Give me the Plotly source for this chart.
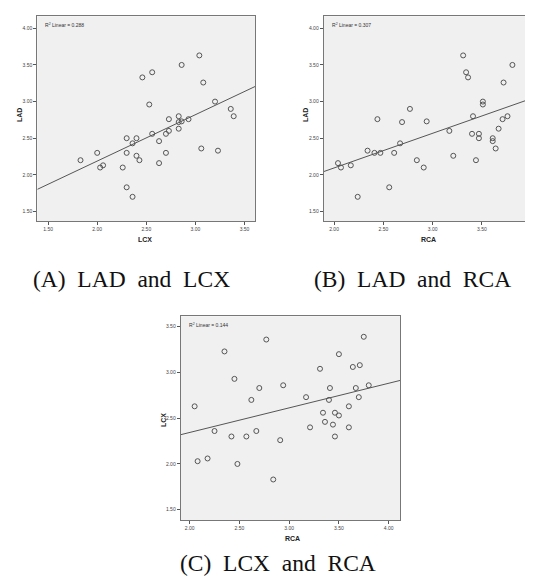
import numpy as np
import plotly.graph_objects as go

# Panel A: LCX (x) vs LAD (y)
a_lcx = [1.83, 2.00, 2.03, 2.06, 2.26, 2.30, 2.30, 2.30, 2.36, 2.36, 2.40, 2.40, 2.43,
         2.46, 2.53, 2.56, 2.56, 2.63, 2.63, 2.70, 2.70, 2.73, 2.73, 2.83, 2.83, 2.83,
         2.86, 2.86, 2.93, 3.04, 3.06, 3.08, 3.20, 3.23, 3.36, 3.39]
a_lad = [2.20, 2.30, 2.10, 2.13, 2.10, 2.50, 2.30, 1.83, 2.43, 1.70, 2.50, 2.26, 2.20,
         3.33, 2.96, 2.56, 3.40, 2.46, 2.16, 2.56, 2.30, 2.76, 2.60, 2.80, 2.72, 2.63,
         2.73, 3.50, 2.76, 3.63, 2.36, 3.26, 3.00, 2.33, 2.90, 2.80]

# Panel B: RCA (x) vs LAD (y)
b_rca = [2.04, 2.07, 2.17, 2.24, 2.34, 2.41, 2.44, 2.47, 2.56, 2.61, 2.67, 2.69, 2.77,
         2.84, 2.91, 2.94, 3.17, 3.21, 3.31, 3.34, 3.36, 3.40, 3.41, 3.44, 3.47, 3.47,
         3.51, 3.51, 3.61, 3.61, 3.64, 3.67, 3.71, 3.72, 3.76, 3.81]
b_lad = [2.16, 2.10, 2.13, 1.70, 2.33, 2.30, 2.76, 2.30, 1.83, 2.30, 2.43, 2.72, 2.90,
         2.20, 2.10, 2.73, 2.60, 2.26, 3.63, 3.40, 3.33, 2.56, 2.80, 2.20, 2.56, 2.50,
         3.00, 2.96, 2.50, 2.46, 2.36, 2.63, 2.76, 3.26, 2.80, 3.50]

# Panel C: RCA (x) vs LCX (y)
c_rca = [2.05, 2.08, 2.18, 2.25, 2.35, 2.42, 2.45, 2.48, 2.57, 2.62, 2.67, 2.70, 2.77,
         2.84, 2.91, 2.94, 3.17, 3.21, 3.31, 3.34, 3.36, 3.40, 3.41, 3.44, 3.46, 3.46,
         3.50, 3.50, 3.60, 3.60, 3.64, 3.67, 3.70, 3.71, 3.75, 3.80]
c_lcx = [2.63, 2.03, 2.06, 2.36, 3.23, 2.30, 2.93, 2.00, 2.30, 2.70, 2.36, 2.83, 3.36,
         1.83, 2.26, 2.86, 2.73, 2.40, 3.04, 2.56, 2.46, 2.70, 2.83, 2.43, 2.56, 2.30,
         2.53, 3.20, 2.63, 2.40, 3.06, 2.83, 2.73, 3.08, 3.39, 2.86]

# Linear fit lines as shown (intercept, slope)
fit_a = [0.922, 0.633]
fit_b = [1.148, 0.473]
fit_c = [1.806, 0.269]

r2_labels = ["0.288", "0.307", "0.144"]
captions = ["(A)\u00a0 LAD\u00a0 and\u00a0 LCX", "(B)\u00a0 LAD\u00a0 and\u00a0 RCA", "(C)\u00a0 LCX\u00a0 and\u00a0 RCA"]
x_titles = ["LCX", "RCA", "RCA"]
y_titles = ["LAD", "LAD", "LCX"]

W, H = 533, 583
def px(x): return x / W
def py(y): return 1 - y / H

panels = [
    dict(x=a_lcx, y=a_lad, fit=fit_a, xr=[1.39, 3.61], yr=[1.37, 4.164], dom=(29.3, 247.3, 8.3, 213)),
    dict(x=b_rca, y=b_lad, fit=fit_b, xr=[1.895, 4.10], yr=[1.37, 4.164], dom=(315.7, 533, 8.3, 213)),
    dict(x=c_rca, y=c_lcx, fit=fit_c, xr=[1.91, 4.114], yr=[1.384, 3.614], dom=(172.7, 392, 308.3, 512.3)),
]

fig = go.Figure()
layout = dict(width=W, height=H, margin=dict(l=0, r=0, t=0, b=0),
              paper_bgcolor="white", showlegend=False, annotations=[])

for i, p in enumerate(panels):
    n = "" if i == 0 else str(i + 1)
    xa, ya = "x" + n, "y" + n
    fig.add_trace(go.Scatter(x=p["x"], y=p["y"], mode="markers", xaxis=xa, yaxis=ya,
                             marker=dict(symbol="circle-open", size=5,
                                         color="#555555", line=dict(width=1))))
    icpt, slope = p["fit"]
    lx = np.array(p["xr"])
    fig.add_trace(go.Scatter(x=lx, y=slope * lx + icpt, mode="lines", xaxis=xa, yaxis=ya,
                             line=dict(color="#555555", width=1)))
    l, r, t, b = p["dom"]
    axcommon = dict(showgrid=False, zeroline=False, showline=True, mirror=True,
                    linecolor="#777777", linewidth=1, ticks="outside", ticklen=3,
                    tickcolor="#555555", tickwidth=1, tickformat=".2f", dtick=0.5,
                    tickfont=dict(family="Arial, Liberation Sans", size=5, color="#444444"))
    layout["xaxis" + n] = dict(axcommon, domain=[px(l), px(r)], range=p["xr"], anchor=ya,
                               tick0=2.0)
    layout["yaxis" + n] = dict(axcommon, domain=[py(b), py(t)], range=p["yr"], anchor=xa,
                               tick0=1.5)
    # R^2 label
    layout["annotations"].append(dict(
        text="R<sup>2</sup> Linear = " + r2_labels[i], x=px(l + 6), y=py(t + 9),
        xref="paper", yref="paper", xanchor="left", yanchor="middle", showarrow=False,
        font=dict(family="Arial, Liberation Sans", size=5, color="#333333")))

layout["plot_bgcolor"] = "#f0f0f0"
fig.update_layout(**layout)

# axis titles
title_pos = [((137, 231), (12, 107)), ((420, 231), (298, 107)), ((284, 530), (155, 412))]
for i, ((xx, xy), (yx, yy)) in enumerate(title_pos):
    fig.add_annotation(text="<b>" + x_titles[i] + "</b>", x=px(xx), y=py(xy), xref="paper",
                       yref="paper", showarrow=False, xanchor="center", yanchor="middle",
                       font=dict(family="Arial, Liberation Sans", size=7, color="#222222"))
    fig.add_annotation(text="<b>" + y_titles[i] + "</b>", x=px(yx), y=py(yy), xref="paper",
                       yref="paper", showarrow=False, xanchor="center", yanchor="middle",
                       textangle=-90,
                       font=dict(family="Arial, Liberation Sans", size=7, color="#222222"))

# captions
cap_pos = [(123.5, 271), (404.5, 271), (270, 555)]
for i, (cx, cy) in enumerate(cap_pos):
    fig.add_annotation(text=captions[i], x=px(cx), y=py(cy), xref="paper", yref="paper",
                       showarrow=False, xanchor="center", yanchor="middle",
                       font=dict(family="Liberation Serif, Times New Roman", size=23.5,
                                 color="#111111"))

fig.write_html("out.html")
